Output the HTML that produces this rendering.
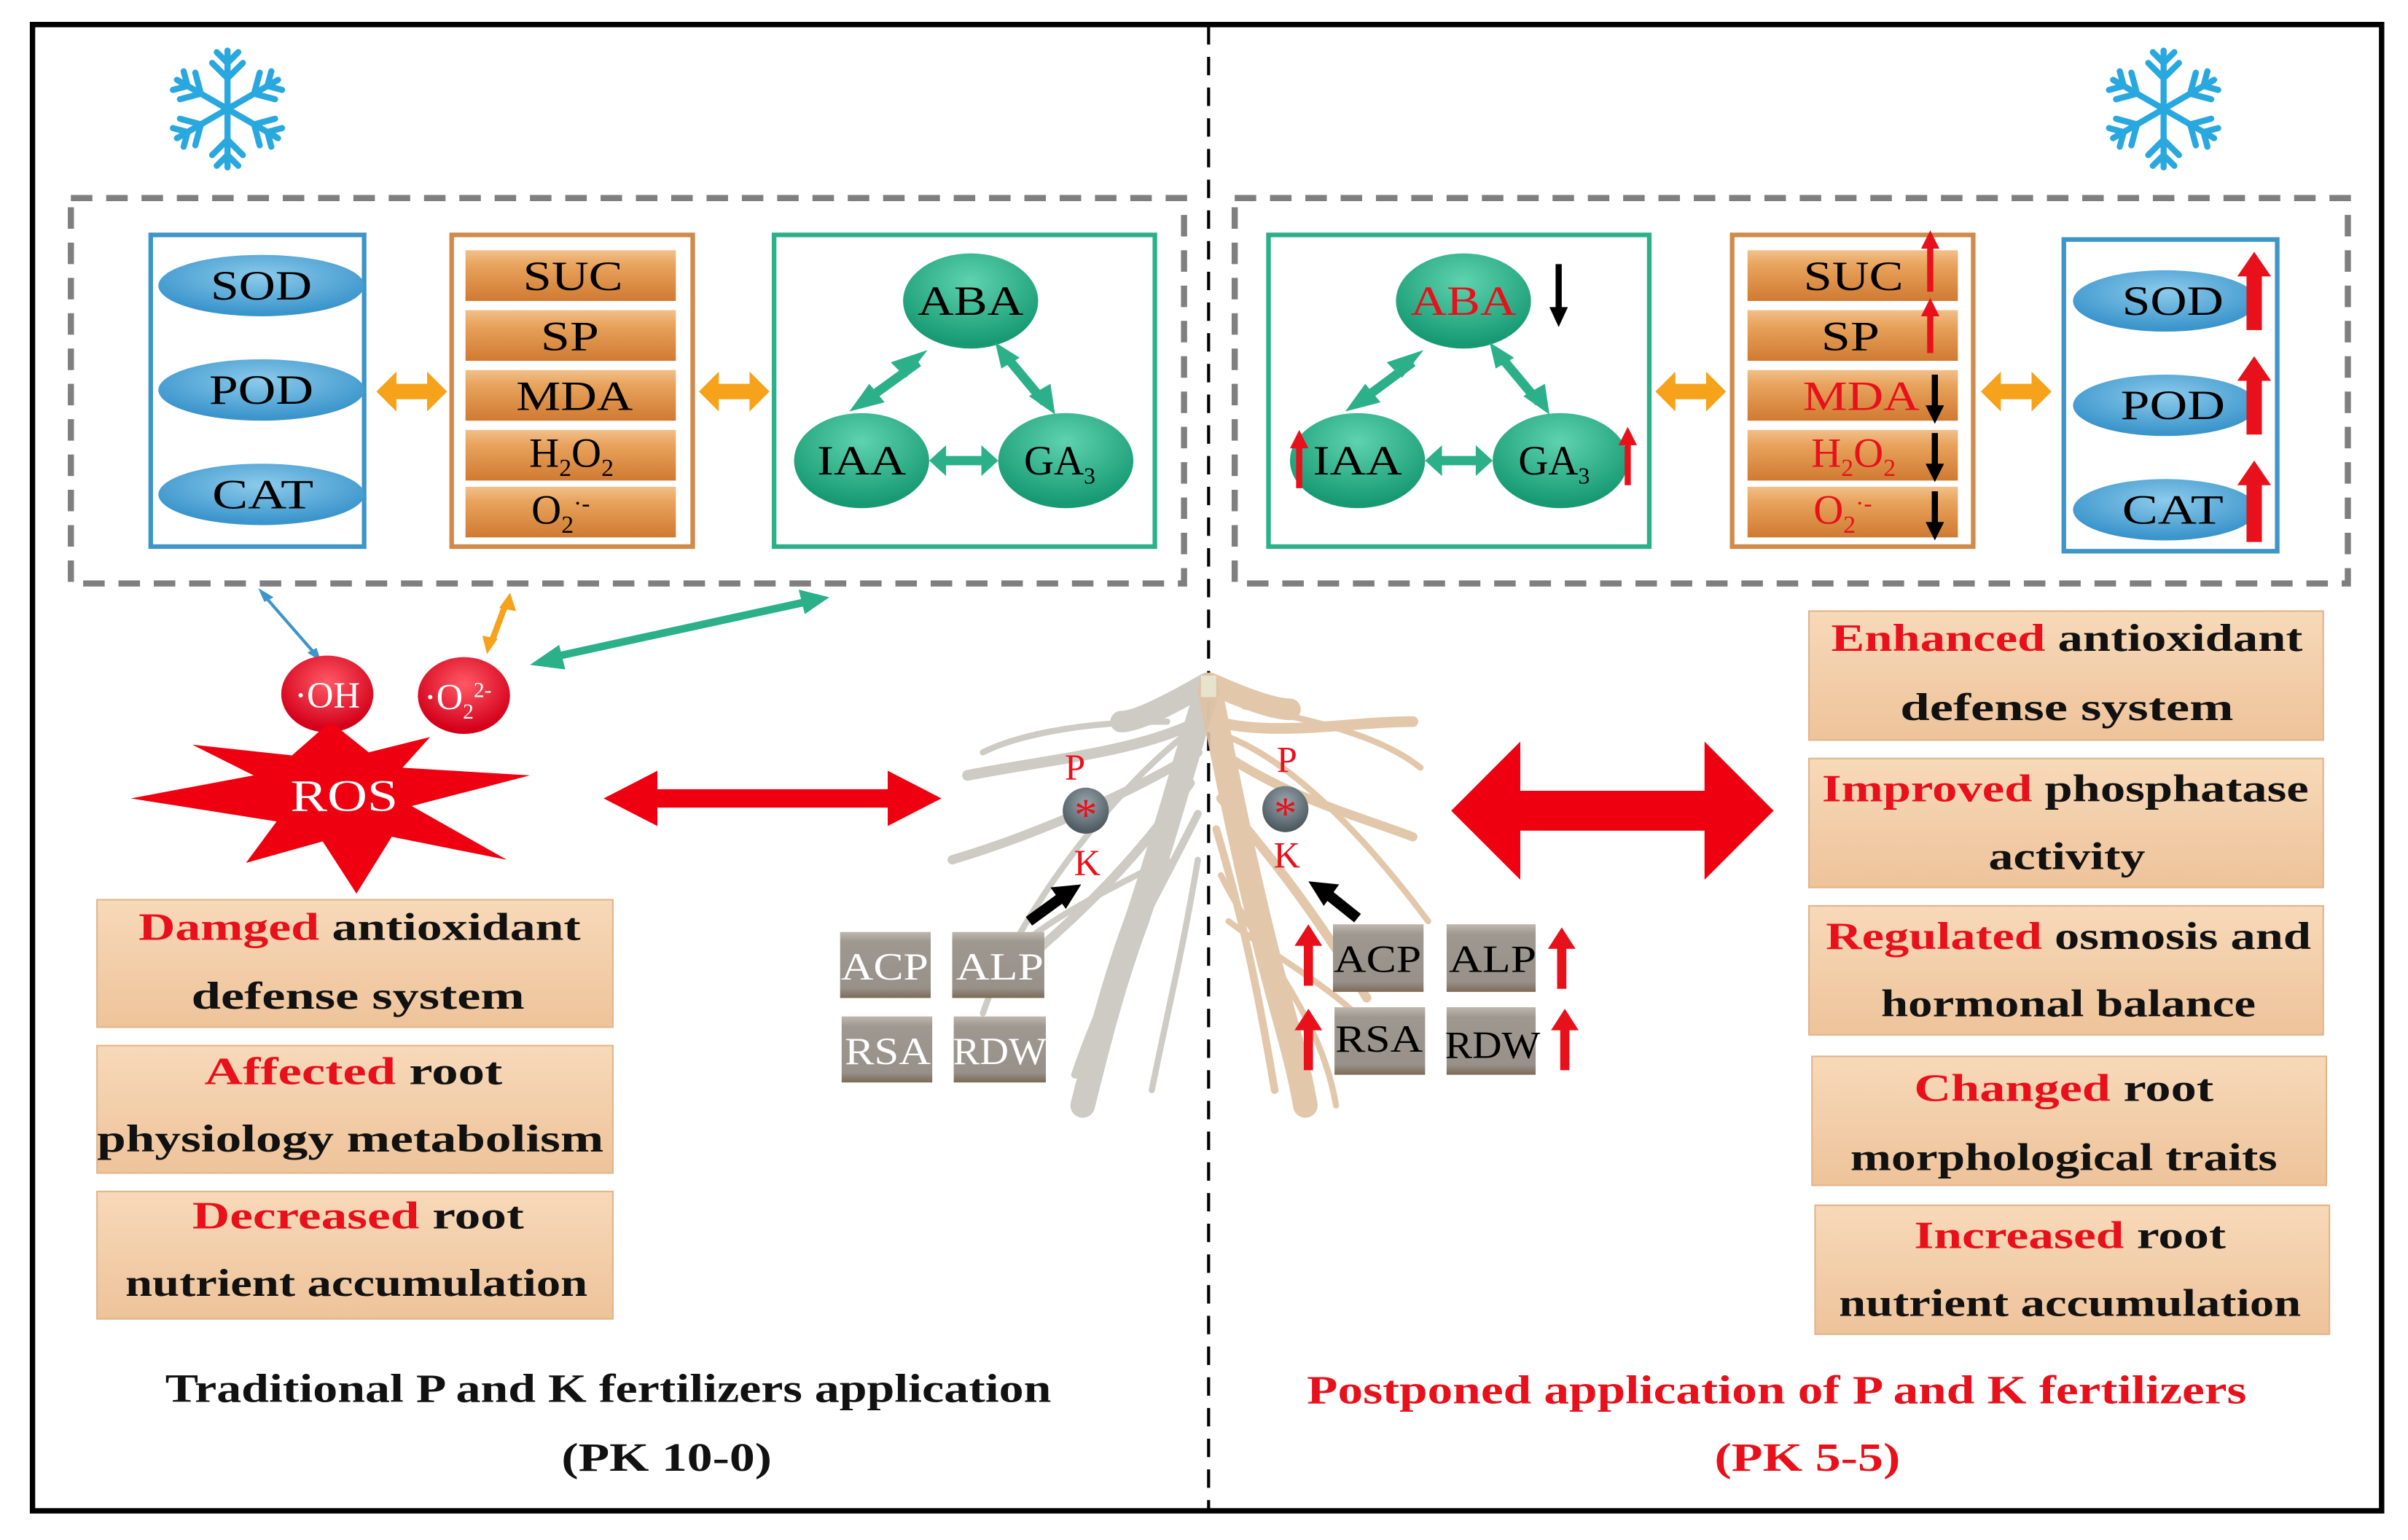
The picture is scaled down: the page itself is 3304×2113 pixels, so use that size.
<!DOCTYPE html>
<html><head><meta charset="utf-8"><style>
html,body{margin:0;padding:0;background:#fff;}
svg{display:block;}
text{font-family:"Liberation Serif",serif;}
</style></head><body>
<svg width="3304" height="2113" viewBox="0 0 1568 1003" xmlns="http://www.w3.org/2000/svg">
<defs>
<linearGradient id="bar" x1="0" y1="0" x2="0" y2="1"><stop offset="0" stop-color="#f2c08a"/><stop offset="0.3" stop-color="#e8a35c"/><stop offset="1" stop-color="#d07a32"/></linearGradient>
<linearGradient id="tan" x1="0" y1="0" x2="0" y2="1"><stop offset="0" stop-color="#f7d9b9"/><stop offset="1" stop-color="#eec39a"/></linearGradient>
<radialGradient id="blue" cx="0.5" cy="0.35" r="0.6"><stop offset="0" stop-color="#8ccbeb"/><stop offset="1" stop-color="#3b95cc"/></radialGradient>
<radialGradient id="green" cx="0.5" cy="0.3" r="0.65"><stop offset="0" stop-color="#5ed3ae"/><stop offset="1" stop-color="#179a74"/></radialGradient>
<radialGradient id="red" cx="0.5" cy="0.35" r="0.6"><stop offset="0" stop-color="#ff5a66"/><stop offset="1" stop-color="#d4001a"/></radialGradient>
<radialGradient id="gball" cx="0.5" cy="0.35" r="0.6"><stop offset="0" stop-color="#9aa7ad"/><stop offset="1" stop-color="#4e5b62"/></radialGradient>
<linearGradient id="gbox" x1="0" y1="0" x2="0" y2="1"><stop offset="0" stop-color="#bdb7ae"/><stop offset="0.15" stop-color="#9e9890"/><stop offset="0.85" stop-color="#97918a"/><stop offset="1" stop-color="#7d6a55"/></linearGradient>
<g id="flake" stroke="#29a8df" stroke-width="4" stroke-linecap="round" fill="none">
<g id="arm"><line x1="0" y1="0" x2="0" y2="-38"/><line x1="0" y1="-20" x2="-10" y2="-30"/><line x1="0" y1="-20" x2="10" y2="-30"/><line x1="0" y1="-30" x2="-7" y2="-37"/><line x1="0" y1="-30" x2="7" y2="-37"/></g>
<use href="#arm" transform="rotate(60)"/><use href="#arm" transform="rotate(120)"/><use href="#arm" transform="rotate(180)"/><use href="#arm" transform="rotate(240)"/><use href="#arm" transform="rotate(300)"/>
</g>
</defs>
<rect x="21" y="16" width="1530" height="968" fill="none" stroke="#000" stroke-width="3.5"/>
<line x1="787" y1="17" x2="787" y2="983" stroke="#000" stroke-width="2" stroke-dasharray="12,8"/>
<use href="#flake" x="148" y="71"/>
<use href="#flake" x="1409" y="71"/>
<rect x="46" y="129" width="725" height="251" fill="none" stroke="#7f7f7f" stroke-width="4" stroke-dasharray="14,9"/>
<rect x="804" y="129" width="725" height="251" fill="none" stroke="#7f7f7f" stroke-width="4" stroke-dasharray="14,9"/>

<rect x="98" y="153" width="139" height="203" fill="none" stroke="#3e95c8" stroke-width="3"/>
<g font-size="27" text-anchor="middle">
<ellipse cx="170" cy="186" rx="67" ry="20" fill="url(#blue)"/><text x="170" y="195" textLength="66" lengthAdjust="spacingAndGlyphs">SOD</text>
<ellipse cx="170" cy="254" rx="67" ry="20" fill="url(#blue)"/><text x="170" y="263" textLength="68" lengthAdjust="spacingAndGlyphs">POD</text>
<ellipse cx="170" cy="322" rx="67" ry="20" fill="url(#blue)"/><text x="171" y="331" textLength="66" lengthAdjust="spacingAndGlyphs">CAT</text>
</g>
<rect x="294" y="153" width="157" height="203" fill="none" stroke="#d08a4a" stroke-width="3"/>
<g font-size="27" text-anchor="middle">
<rect x="303" y="163" width="137" height="33" fill="url(#bar)"/><text x="373" y="189" textLength="65" lengthAdjust="spacingAndGlyphs">SUC</text>
<rect x="303" y="202" width="137" height="33" fill="url(#bar)"/><text x="371" y="228" textLength="38" lengthAdjust="spacingAndGlyphs">SP</text>
<rect x="303" y="241" width="137" height="33" fill="url(#bar)"/><text x="374" y="267" textLength="76" lengthAdjust="spacingAndGlyphs">MDA</text>
<rect x="303" y="280" width="137" height="33" fill="url(#bar)"/><text x="372" y="304">H<tspan font-size="16" dy="6">2</tspan><tspan dy="-6">O</tspan><tspan font-size="16" dy="6">2</tspan></text>
<rect x="303" y="317" width="137" height="33" fill="url(#bar)"/><text x="365" y="341">O<tspan font-size="16" dy="6">2</tspan><tspan font-size="16" dy="-14">·-</tspan></text>
</g>
<rect x="504" y="153" width="248" height="203" fill="none" stroke="#2bb08a" stroke-width="3"/>
<g font-size="27" text-anchor="middle">
<ellipse cx="632" cy="196" rx="44" ry="31" fill="url(#green)"/><text x="632" y="205" textLength="69" lengthAdjust="spacingAndGlyphs">ABA</text>
<ellipse cx="561" cy="300" rx="44" ry="31" fill="url(#green)"/><text x="561" y="309" textLength="58" lengthAdjust="spacingAndGlyphs">IAA</text>
<ellipse cx="694" cy="300" rx="44" ry="31" fill="url(#green)"/><text x="690" y="309">GA<tspan font-size="15" dy="6">3</tspan></text>
</g>
<g stroke="#2bb08a" stroke-width="6" fill="#2bb08a">
<line x1="598" y1="236" x2="562" y2="262"/><line x1="655" y1="232" x2="680" y2="262"/><line x1="610" y1="300" x2="645" y2="300"/>
</g>
<g fill="#2bb08a">
<polygon points="604,228 590,246 580,236"/><polygon points="553,268 566,250 576,262"/>
<polygon points="648,223 664,233 652,240"/><polygon points="687,270 670,258 684,250"/>
<polygon points="605,300 616,290 616,310"/><polygon points="650,300 639,290 639,310"/>
</g>
<g fill="#f6a21a">
<path d="M245,255 l13,-13 v8 h20 v-8 l13,13 l-13,13 v-8 h-20 v8z"/>
<path d="M455,255 l13,-13 v8 h20 v-8 l13,13 l-13,13 v-8 h-20 v8z"/>
<path d="M1078,255 l13,-13 v8 h20 v-8 l13,13 l-13,13 v-8 h-20 v8z"/>
<path d="M1290,255 l13,-13 v8 h20 v-8 l13,13 l-13,13 v-8 h-20 v8z"/>
</g>

<rect x="826" y="153" width="248" height="203" fill="none" stroke="#2bb08a" stroke-width="3"/>
<g font-size="27" text-anchor="middle">
<ellipse cx="953" cy="196" rx="44" ry="31" fill="url(#green)"/><text x="953" y="205" fill="#e8101a" textLength="69" lengthAdjust="spacingAndGlyphs">ABA</text>
<ellipse cx="884" cy="300" rx="44" ry="31" fill="url(#green)"/><text x="884" y="309" textLength="58" lengthAdjust="spacingAndGlyphs">IAA</text>
<ellipse cx="1016" cy="300" rx="44" ry="31" fill="url(#green)"/><text x="1012" y="309">GA<tspan font-size="15" dy="6">3</tspan></text>
</g>
<g stroke="#2bb08a" stroke-width="6">
<line x1="920" y1="236" x2="885" y2="262"/><line x1="977" y1="232" x2="1002" y2="262"/><line x1="933" y1="300" x2="967" y2="300"/>
</g>
<g fill="#2bb08a">
<polygon points="927,228 913,246 903,236"/><polygon points="876,268 889,250 899,262"/>
<polygon points="970,223 986,233 974,240"/><polygon points="1009,270 992,258 1006,250"/>
<polygon points="928,300 939,290 939,310"/><polygon points="972,300 961,290 961,310"/>
</g>
<rect x="1128" y="153" width="157" height="203" fill="none" stroke="#d08a4a" stroke-width="3"/>
<g font-size="27" text-anchor="middle">
<rect x="1138" y="163" width="137" height="33" fill="url(#bar)"/><text x="1207" y="189" textLength="65" lengthAdjust="spacingAndGlyphs">SUC</text>
<rect x="1138" y="202" width="137" height="33" fill="url(#bar)"/><text x="1205" y="228" textLength="38" lengthAdjust="spacingAndGlyphs">SP</text>
<rect x="1138" y="241" width="137" height="33" fill="url(#bar)"/><text x="1212" y="267" fill="#e8101a" textLength="76" lengthAdjust="spacingAndGlyphs">MDA</text>
<rect x="1138" y="280" width="137" height="33" fill="url(#bar)"/><text x="1207" y="304" fill="#e8101a">H<tspan font-size="16" dy="6">2</tspan><tspan dy="-6">O</tspan><tspan font-size="16" dy="6">2</tspan></text>
<rect x="1138" y="317" width="137" height="33" fill="url(#bar)"/><text x="1200" y="341" fill="#e8101a">O<tspan font-size="16" dy="6">2</tspan><tspan font-size="16" dy="-14">·-</tspan></text>
</g>
<rect x="1344" y="156" width="139" height="203" fill="none" stroke="#3e95c8" stroke-width="3"/>
<g font-size="27" text-anchor="middle">
<ellipse cx="1410" cy="196" rx="60" ry="20" fill="url(#blue)"/><text x="1415" y="205" textLength="66" lengthAdjust="spacingAndGlyphs">SOD</text>
<ellipse cx="1410" cy="264" rx="60" ry="20" fill="url(#blue)"/><text x="1415" y="273" textLength="68" lengthAdjust="spacingAndGlyphs">POD</text>
<ellipse cx="1410" cy="332" rx="60" ry="20" fill="url(#blue)"/><text x="1415" y="341" textLength="66" lengthAdjust="spacingAndGlyphs">CAT</text>
</g>
<g fill="#e8101a">
<path d="M1463,215 v-35 h-6 l11,-16 l11,16 h-6 v35z"/>
<path d="M1463,283 v-35 h-6 l11,-16 l11,16 h-6 v35z"/>
<path d="M1463,353 v-37 h-6 l11,-16 l11,16 h-6 v37z"/>
<path d="M1255,190 v-28 h-4 l6,-12 l6,12 h-4 v28z"/>
<path d="M1255,230 v-24 h-4 l6,-12 l6,12 h-4 v24z"/>
<path d="M844,318 v-26 h-4 l6,-12 l6,12 h-4 v26z"/>
<path d="M1058,316 v-26 h-4 l6,-12 l6,12 h-4 v26z"/>
</g>
<g fill="#000">
<path d="M1013,172 v28 h-4 l6,13 l6,-13 h-4 v-28z"/>
<path d="M1258,244 v20 h-4 l6,12 l6,-12 h-4 v-20z"/>
<path d="M1258,282 v20 h-4 l6,12 l6,-12 h-4 v-20z"/>
<path d="M1258,320 v20 h-4 l6,12 l6,-12 h-4 v-20z"/>
</g>

<line x1="172" y1="388" x2="206" y2="427" stroke="#3e95c8" stroke-width="2"/>
<polygon points="168,383 178,389 172,392" fill="#3e95c8"/><polygon points="209,431 200,425 206,422" fill="#3e95c8"/>
<line x1="329" y1="394" x2="320" y2="418" stroke="#f6a21a" stroke-width="4"/>
<polygon points="332,386 336,398 325,396" fill="#f6a21a"/><polygon points="317,426 314,414 324,416" fill="#f6a21a"/>
<line x1="360" y1="428" x2="525" y2="392" stroke="#2bb08a" stroke-width="5"/>
<polygon points="345,433 364,420 368,436" fill="#2bb08a"/><polygon points="540,389 520,384 524,400" fill="#2bb08a"/>
<ellipse cx="213" cy="452" rx="30" ry="25" fill="url(#red)"/><text x="213" y="461" font-size="24" fill="#fff" text-anchor="middle">·OH</text>
<ellipse cx="302" cy="453" rx="30" ry="25" fill="url(#red)"/><text x="298" y="462" font-size="24" fill="#fff" text-anchor="middle">·O<tspan font-size="14" dy="6">2</tspan><tspan font-size="14" dy="-14">2-</tspan></text>
<polygon fill="#ee0010" points="215,470 240,490 280,480 262,500 345,505 268,525 330,560 255,545 232,582 210,548 160,562 180,535 85,520 165,505 125,485 190,492" />
<text x="224" y="528" font-size="29" fill="#fff" text-anchor="middle" textLength="70" lengthAdjust="spacingAndGlyphs">ROS</text>
<path d="M393,520 l35,-18 v12 h150 v-12 l35,18 l-35,18 v-12 h-150 v12z" fill="#ee0010"/>
<path d="M945,528 l45,-45 v32 h120 v-32 l45,45 l-45,45 v-32 h-120 v32z" fill="#ee0010"/>

<g stroke="#c9c5be" fill="none" stroke-linecap="round" opacity="0.9">
<path d="M786,445 C760,460 740,470 730,470" stroke-width="14"/>
<path d="M786,450 C770,500 760,540 740,600 C725,640 715,680 705,720" stroke-width="16"/>
<path d="M780,470 C740,490 680,495 630,505" stroke-width="7"/>
<path d="M780,490 C730,520 670,545 620,560" stroke-width="6"/>
<path d="M775,510 C740,560 700,600 650,640" stroke-width="6"/>
<path d="M780,530 C750,590 720,640 700,700" stroke-width="5"/>
<path d="M770,480 C720,520 660,600 640,660" stroke-width="4"/>
<path d="M780,560 C770,620 760,660 750,710" stroke-width="4"/>
<path d="M760,470 C700,470 660,480 640,490" stroke-width="4"/>
<path d="M760,560 C720,580 680,600 660,620" stroke-width="4"/>
</g>
<g stroke="#dfc2a2" fill="none" stroke-linecap="round" opacity="0.9">
<path d="M788,445 C810,455 830,462 840,462" stroke-width="14"/>
<path d="M788,450 C800,510 810,560 825,620 C835,660 845,690 850,720" stroke-width="16"/>
<path d="M792,470 C830,480 880,470 920,470" stroke-width="7"/>
<path d="M795,490 C840,520 880,530 920,545" stroke-width="6"/>
<path d="M795,520 C830,560 860,600 890,650" stroke-width="6"/>
<path d="M792,540 C810,600 820,650 830,710" stroke-width="5"/>
<path d="M800,480 C850,500 900,560 930,600" stroke-width="4"/>
<path d="M795,570 C820,620 860,660 870,720" stroke-width="4"/>
<path d="M810,460 C860,470 900,480 925,500" stroke-width="4"/>
<path d="M800,600 C840,630 880,650 900,680" stroke-width="4"/>
</g>
<rect x="782" y="440" width="10" height="14" fill="#e6e4cc"/>
<g font-size="24" fill="#e8101a" text-anchor="middle">
<text x="700" y="508">P</text><text x="708" y="570">K</text>
<text x="838" y="503">P</text><text x="838" y="565">K</text>
</g>
<circle cx="707" cy="528" r="15" fill="url(#gball)"/><text x="707" y="541" font-size="30" fill="#e8101a" text-anchor="middle">*</text>
<circle cx="837" cy="527" r="15" fill="url(#gball)"/><text x="837" y="540" font-size="30" fill="#e8101a" text-anchor="middle">*</text>
<line x1="670" y1="600" x2="692" y2="584" stroke="#000" stroke-width="7"/><polygon points="704,576 684,578 694,592" fill="#000"/>
<line x1="884" y1="598" x2="864" y2="582" stroke="#000" stroke-width="7"/><polygon points="852,574 872,576 862,590" fill="#000"/>
<g font-size="25" text-anchor="middle">
<rect x="547" y="607" width="59" height="43" fill="url(#gbox)"/><text x="576" y="638" fill="#fff" textLength="57" lengthAdjust="spacingAndGlyphs">ACP</text>
<rect x="620" y="607" width="60" height="43" fill="url(#gbox)"/><text x="651" y="638" fill="#fff" textLength="57" lengthAdjust="spacingAndGlyphs">ALP</text>
<rect x="548" y="662" width="59" height="43" fill="url(#gbox)"/><text x="578" y="693" fill="#fff" textLength="56" lengthAdjust="spacingAndGlyphs">RSA</text>
<rect x="621" y="662" width="60" height="43" fill="url(#gbox)"/><text x="651" y="693" fill="#fff" textLength="61" lengthAdjust="spacingAndGlyphs">RDW</text>
<rect x="868" y="602" width="59" height="44" fill="url(#gbox)"/><text x="897" y="633" textLength="57" lengthAdjust="spacingAndGlyphs">ACP</text>
<rect x="942" y="602" width="58" height="44" fill="url(#gbox)"/><text x="972" y="633" textLength="57" lengthAdjust="spacingAndGlyphs">ALP</text>
<rect x="869" y="656" width="59" height="44" fill="url(#gbox)"/><text x="898" y="685" textLength="57" lengthAdjust="spacingAndGlyphs">RSA</text>
<rect x="942" y="656" width="58" height="44" fill="url(#gbox)"/><text x="972" y="689" textLength="62" lengthAdjust="spacingAndGlyphs">RDW</text>
</g>
<g fill="#e8101a">
<path d="M849,642 v-26 h-6 l9,-14 l9,14 h-6 v26z"/>
<path d="M1014,644 v-26 h-6 l9,-14 l9,14 h-6 v26z"/>
<path d="M849,697 v-26 h-6 l9,-14 l9,14 h-6 v26z"/>
<path d="M1016,697 v-26 h-6 l9,-14 l9,14 h-6 v26z"/>
</g>

<g font-size="25" text-anchor="middle" font-weight="bold" fill="#111">
<rect x="63" y="586" width="336" height="83" fill="url(#tan)" stroke="#e2b48a"/>
<text x="234" y="612" textLength="288" lengthAdjust="spacingAndGlyphs"><tspan fill="#e8101a">Damged</tspan>  antioxidant</text><text x="233" y="657" textLength="217" lengthAdjust="spacingAndGlyphs">defense  system</text>
<rect x="63" y="681" width="336" height="83" fill="url(#tan)" stroke="#e2b48a"/>
<text x="230" y="706" textLength="194" lengthAdjust="spacingAndGlyphs"><tspan fill="#e8101a">Affected</tspan>   root</text><text x="228" y="750" textLength="330" lengthAdjust="spacingAndGlyphs">physiology  metabolism</text>
<rect x="63" y="776" width="336" height="83" fill="url(#tan)" stroke="#e2b48a"/>
<text x="233" y="800" textLength="216" lengthAdjust="spacingAndGlyphs"><tspan fill="#e8101a">Decreased</tspan>   root</text><text x="232" y="844" textLength="301" lengthAdjust="spacingAndGlyphs">nutrient accumulation</text>

<rect x="1178" y="398" width="335" height="84" fill="url(#tan)" stroke="#e2b48a"/>
<text x="1346" y="424" textLength="307" lengthAdjust="spacingAndGlyphs"><tspan fill="#e8101a">Enhanced</tspan>  antioxidant</text><text x="1346" y="469" textLength="217" lengthAdjust="spacingAndGlyphs">defense  system</text>
<rect x="1178" y="494" width="335" height="84" fill="url(#tan)" stroke="#e2b48a"/>
<text x="1345" y="522" textLength="317" lengthAdjust="spacingAndGlyphs"><tspan fill="#e8101a">Improved</tspan>  phosphatase</text><text x="1346" y="566" textLength="102" lengthAdjust="spacingAndGlyphs">activity</text>
<rect x="1178" y="590" width="335" height="84" fill="url(#tan)" stroke="#e2b48a"/>
<text x="1347" y="618" textLength="316" lengthAdjust="spacingAndGlyphs"><tspan fill="#e8101a">Regulated</tspan> osmosis and</text><text x="1347" y="662" textLength="244" lengthAdjust="spacingAndGlyphs">hormonal balance</text>
<rect x="1180" y="688" width="335" height="84" fill="url(#tan)" stroke="#e2b48a"/>
<text x="1344" y="717" textLength="195" lengthAdjust="spacingAndGlyphs"><tspan fill="#e8101a">Changed</tspan>   root</text><text x="1344" y="762" textLength="278" lengthAdjust="spacingAndGlyphs">morphological traits</text>
<rect x="1182" y="785" width="335" height="84" fill="url(#tan)" stroke="#e2b48a"/>
<text x="1348" y="813" textLength="203" lengthAdjust="spacingAndGlyphs"><tspan fill="#e8101a">Increased</tspan>   root</text><text x="1348" y="857" textLength="301" lengthAdjust="spacingAndGlyphs">nutrient accumulation</text>
</g>
<g font-size="26" text-anchor="middle" font-weight="bold">
<text x="396" y="913" fill="#111" textLength="577" lengthAdjust="spacingAndGlyphs">Traditional P and K fertilizers application</text>
<text x="434" y="958" fill="#111" textLength="137" lengthAdjust="spacingAndGlyphs">(PK 10-0)</text>
<text x="1157" y="914" fill="#e8101a" textLength="612" lengthAdjust="spacingAndGlyphs">Postponed  application of P and K fertilizers</text>
<text x="1177" y="958" fill="#e8101a" textLength="121" lengthAdjust="spacingAndGlyphs">(PK 5-5)</text>
</g>
</svg>
</body></html>
